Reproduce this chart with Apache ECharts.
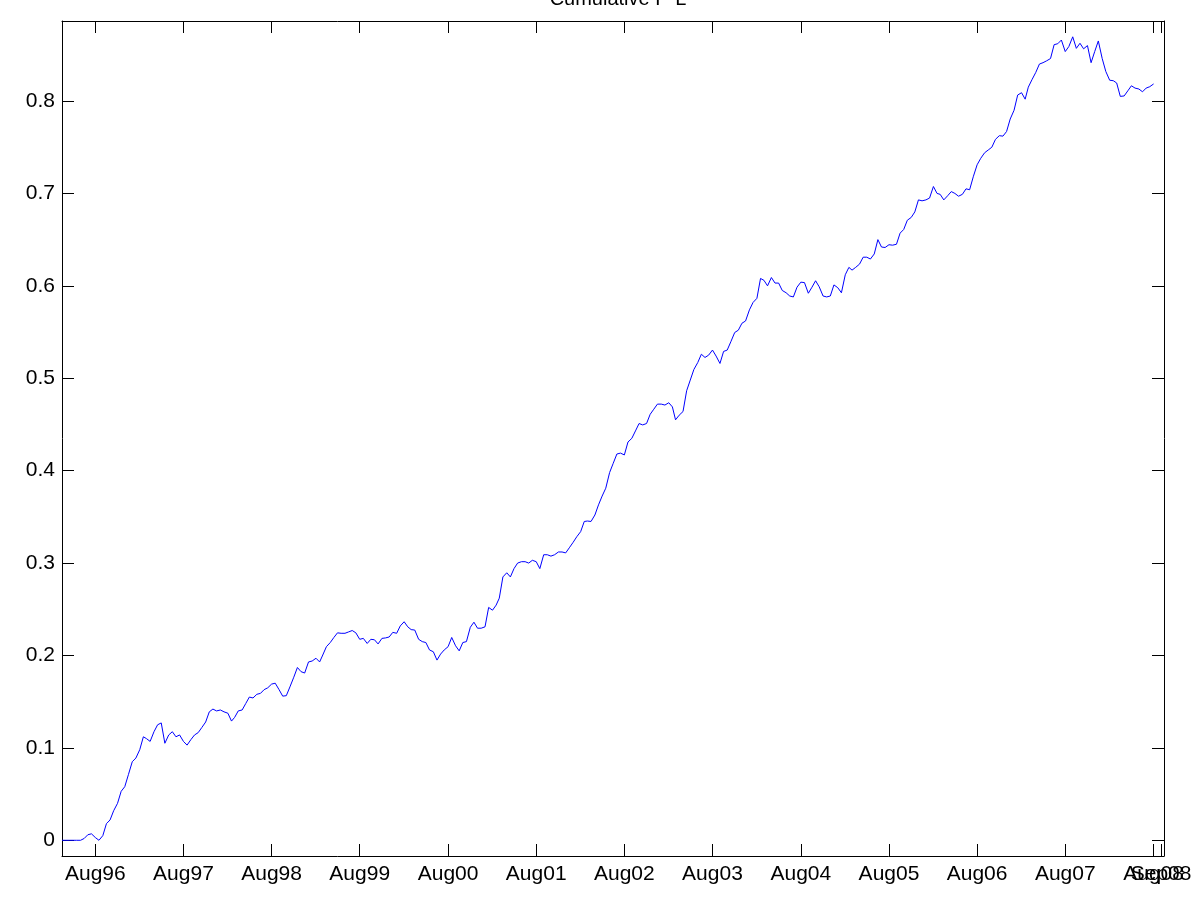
<!DOCTYPE html>
<html>
<head>
<meta charset="utf-8">
<title>Cumulative P-L</title>
<script src="https://cdn.jsdelivr.net/npm/echarts@6/dist/echarts.min.js"></script>
<style>
    html, body { margin: 0; padding: 0; background: #fff; }
    #main { width: 1201px; height: 901px; }
</style>
</head>
<body>
<div id="main"></div>
<script>
// half-month samples (1st and 16th of each month), first one is 16 Mar 1996
const firstSample = [1996, 2, 16];
// prettier-ignore
const cumPL = [
    0, 0, 0, 0, 0, 0, 0.002, 0.006, 0.007,
    // Aug96
    0.003, 0.000, 0.005, 0.018, 0.022, 0.032, 0.040, 0.053, 0.058, 0.071, 0.085, 0.089,
    0.098, 0.112, 0.110, 0.107, 0.1175, 0.125, 0.127, 0.105, 0.114, 0.1175, 0.112, 0.114,
    // Aug97
    0.107, 0.103, 0.109, 0.114, 0.1165, 0.122, 0.128, 0.139, 0.142, 0.140, 0.141, 0.139,
    0.1375, 0.129, 0.133, 0.140, 0.141, 0.148, 0.155, 0.154, 0.158, 0.159, 0.163, 0.165,
    // Aug98
    0.169, 0.170, 0.163, 0.156, 0.1565, 0.166, 0.1765, 0.187, 0.1825, 0.181, 0.193, 0.194,
    0.197, 0.193, 0.2005, 0.2095, 0.214, 0.2195, 0.2245, 0.224, 0.224, 0.2255, 0.227, 0.2245,
    // Aug99
    0.2175, 0.2185, 0.213, 0.2175, 0.217, 0.2125, 0.2185, 0.219, 0.220, 0.225, 0.224, 0.232,
    0.2365, 0.231, 0.228, 0.2275, 0.2175, 0.215, 0.214, 0.206, 0.204, 0.195, 0.2015, 0.206,
    // Aug00
    0.2095, 0.2195, 0.2105, 0.205, 0.214, 0.215, 0.2305, 0.236, 0.2295, 0.2295, 0.231, 0.252,
    0.249, 0.2545, 0.262, 0.285, 0.2895, 0.285, 0.294, 0.300, 0.3015, 0.3015, 0.300, 0.303,
    // Aug01
    0.3015, 0.294, 0.309, 0.309, 0.3075, 0.309, 0.312, 0.312, 0.311, 0.3165, 0.3225, 0.3285,
    0.334, 0.345, 0.3455, 0.345, 0.352, 0.363, 0.3725, 0.381, 0.398, 0.408, 0.418, 0.419,
    // Aug02
    0.417, 0.431, 0.435, 0.443, 0.451, 0.4495, 0.451, 0.461, 0.4665, 0.472, 0.472, 0.471,
    0.4735, 0.469, 0.455, 0.460, 0.464, 0.4865, 0.498, 0.5095, 0.517, 0.526, 0.5225, 0.525,
    // Aug03
    0.5305, 0.524, 0.516, 0.529, 0.5305, 0.5395, 0.5495, 0.552, 0.5595, 0.562, 0.574, 0.582,
    0.5865, 0.608, 0.606, 0.600, 0.609, 0.603, 0.603, 0.595, 0.5925, 0.589, 0.588, 0.5985,
    // Aug04
    0.604, 0.6035, 0.592, 0.5985, 0.6055, 0.599, 0.589, 0.588, 0.589, 0.601, 0.598, 0.5925,
    0.612, 0.620, 0.617, 0.620, 0.6235, 0.631, 0.631, 0.629, 0.6345, 0.650, 0.642, 0.6415,
    // Aug05
    0.6445, 0.644, 0.645, 0.657, 0.661, 0.671, 0.674, 0.680, 0.693, 0.692, 0.693, 0.695,
    0.7075, 0.700, 0.699, 0.693, 0.6975, 0.702, 0.700, 0.697, 0.699, 0.705, 0.704, 0.718,
    // Aug06
    0.731, 0.738, 0.744, 0.747, 0.750, 0.7585, 0.7625, 0.762, 0.767, 0.7805, 0.790, 0.8065,
    0.809, 0.802, 0.815, 0.823, 0.831, 0.840, 0.8415, 0.8435, 0.846, 0.861, 0.862, 0.866,
    // Aug07
    0.8535, 0.859, 0.8695, 0.857, 0.8625, 0.8565, 0.860, 0.8415, 0.8535, 0.865, 0.846, 0.832,
    0.8225, 0.822, 0.8195, 0.805, 0.8055, 0.811, 0.8165, 0.814, 0.813, 0.810, 0.814, 0.8155,
    // Aug08
    0.8185
];
// prettier-ignore
const tickDates = ['1996-08-01','1997-08-01','1998-08-01','1999-08-01','2000-08-01','2001-08-01','2002-08-01',
    '2003-08-01','2004-08-01','2005-08-01','2006-08-01','2007-08-01','2008-08-01','2008-09-01'];
// prettier-ignore
const tickLabels = ['Aug96','Aug97','Aug98','Aug99','Aug00','Aug01','Aug02','Aug03','Aug04','Aug05','Aug06','Aug07','Aug08','Sep08'];
const yTicks = [0, 0.1, 0.2, 0.3, 0.4, 0.5, 0.6, 0.7, 0.8];
const xStart = '1996-03-16';
const xEnd = '2008-09-13';
const yMin = -0.017;
const yMax = 0.8866;

function toTime(s) {
    const p = s.split('-');
    return Date.UTC(+p[0], +p[1] - 1, +p[2]);
}

let y = firstSample[0], m = firstSample[1], d = firstSample[2];
const points = [];
for (let i = 0; i < cumPL.length; i++) {
    points.push([Date.UTC(y, m, d), cumPL[i]]);
    if (d === 16) {
        d = 1;
        m++;
        if (m > 11) { m = 0; y++; }
    } else {
        d = 16;
    }
}

const tickTimes = tickDates.map(toTime);
// the last two labels overlap (as in the original); echarts would drop one,
// so the final label goes on its own bottom axis
const mainLabelTimes = tickTimes.slice(0, -1);
const lastLabelTimes = tickTimes.slice(-1);
const font = 'Liberation Sans, Arial, Helvetica, sans-serif';

var chartDom = document.getElementById('main');
var myChart = echarts.init(chartDom, null, { renderer: 'canvas' });

const axisLine = { show: true, onZero: false, lineStyle: { color: '#000', width: 1 } };
const tickStyle = { show: true, inside: true, length: 12, lineStyle: { color: '#000', width: 1 } };

function xLabel(values) {
    return {
        customValues: values,
        margin: 8,
        color: '#000',
        fontFamily: font,
        fontSize: 21,
        hideOverlap: false,
        showMinLabel: true,
        showMaxLabel: true,
        formatter: function (v) {
            const k = tickTimes.indexOf(v);
            return k >= 0 ? tickLabels[k] : '';
        }
    };
}

var option = {
    animation: false,
    backgroundColor: '#fff',
    title: {
        text: 'Cumulative P-L',
        left: 613,
        textAlign: 'center',
        top: -16,
        textStyle: { fontFamily: font, fontSize: 20, fontWeight: 'normal', color: '#000' }
    },
    grid: { left: 62, right: 37, top: 21, bottom: 45 },
    xAxis: [
        {
            type: 'value',
            position: 'bottom',
            min: toTime(xStart),
            max: toTime(xEnd),
            axisLine: axisLine,
            axisTick: Object.assign({ customValues: tickTimes }, tickStyle),
            axisLabel: xLabel(mainLabelTimes),
            splitLine: { show: false }
        },
        {
            type: 'value',
            position: 'top',
            min: toTime(xStart),
            max: toTime(xEnd),
            axisLine: axisLine,
            axisTick: Object.assign({ customValues: tickTimes }, tickStyle),
            axisLabel: { show: false },
            splitLine: { show: false }
        },
        {
            type: 'value',
            position: 'bottom',
            offset: 0,
            min: toTime(xStart),
            max: toTime(xEnd),
            axisLine: { show: false },
            axisTick: { show: false },
            axisLabel: xLabel(lastLabelTimes),
            splitLine: { show: false }
        }
    ],
    yAxis: [
        {
            type: 'value',
            position: 'left',
            min: yMin,
            max: yMax,
            axisLine: axisLine,
            axisTick: Object.assign({ customValues: yTicks }, tickStyle),
            axisLabel: {
                customValues: yTicks,
                margin: 7,
                color: '#000',
                fontFamily: font,
                fontSize: 21,
                showMinLabel: true,
                showMaxLabel: true,
                formatter: function (v) { return String(v); }
            },
            splitLine: { show: false }
        },
        {
            type: 'value',
            position: 'right',
            min: yMin,
            max: yMax,
            axisLine: axisLine,
            axisTick: Object.assign({ customValues: yTicks }, tickStyle),
            axisLabel: { show: false },
            splitLine: { show: false }
        }
    ],
    series: [
        {
            type: 'line',
            data: points,
            xAxisIndex: 0,
            yAxisIndex: 0,
            showSymbol: false,
            symbol: 'none',
            lineStyle: { color: '#0000ff', width: 1 },
            itemStyle: { color: '#0000ff' }
        }
    ]
};

option && myChart.setOption(option);
</script>
</body>
</html>
